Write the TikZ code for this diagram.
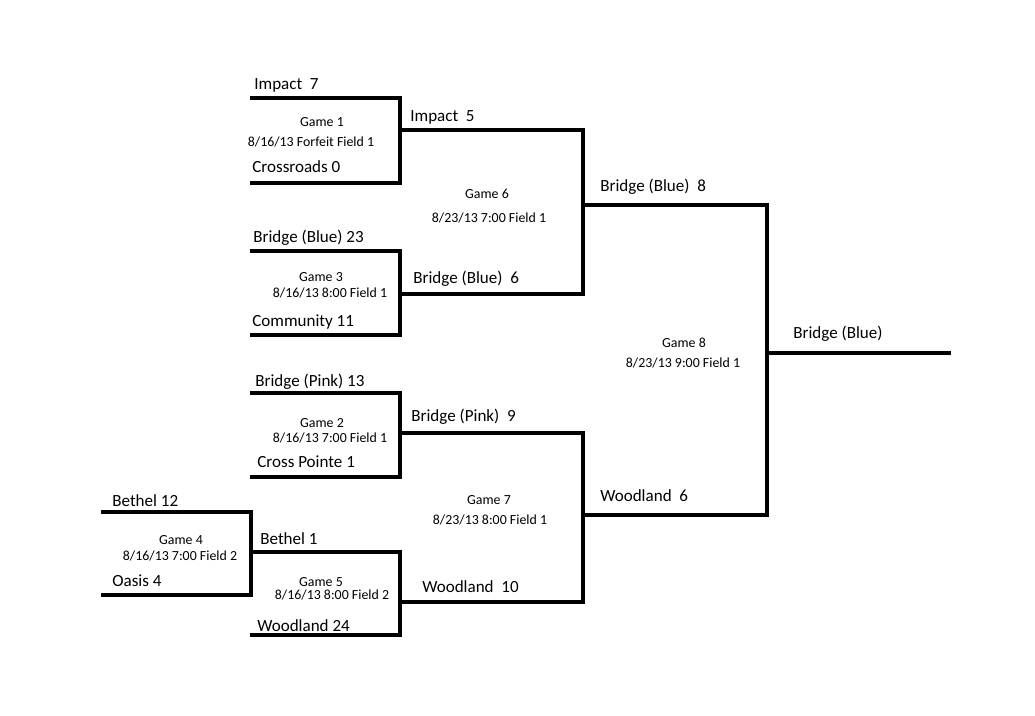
\documentclass[tikz,border=0pt]{standalone}
\usepackage{fontspec}
\setmainfont{Carlito}
\begin{document}
\begin{tikzpicture}[x=0.02cm,y=-0.02cm]
\tikzset{bline/.style={line width=2pt},
team/.style={anchor=base west,inner sep=0pt,font=\fontsize{9.7}{11}\selectfont},
game/.style={anchor=base,inner sep=0pt,font=\fontsize{7.9}{9}\selectfont}}
\useasboundingbox(0,0)rectangle(1035,716);
% bracket boxes: left x / right x / top y / bottom y
\foreach \xa/\xb/\ya/\yb in {250/400/98/183,250/400/251/335,250/400/393/477,101/251/512/595,250/400/552/635,400/583/130/294,400/583/433/602,583/767/205/515}{\draw[bline](\xa,\ya)-|(\xb,\yb)--(\xa,\yb);}
\draw[bline](767,353)--(951,353);
% game titles and dates
\foreach \n/\xg/\yg/\xd/\yd/\d in {1/322/127/311/147/{8/16/13 Forfeit Field 1},2/322/427/330/442/{8/16/13 7:00 Field 1},3/321/282/330/297/{8/16/13 8:00 Field 1},4/181/544/180/560/{8/16/13 7:00 Field 2},5/321/586/332/599/{8/16/13 8:00 Field 2},6/487/199/489/223/{8/23/13 7:00 Field 1},7/489/504/490/524/{8/23/13 8:00 Field 1},8/684/348/683/367/{8/23/13 9:00 Field 1}}{\node[game](g\n) at (\xg,\yg){Game \n};\node[game](d\n) at (\xd,\yd){\d};}
% teams and scores
\foreach \nm/\x/\y/\t in {impA/254/90/{Impact\ \ 7},cross/252/173/{Crossroads 0},impB/410/122/{Impact\ \ 5},blueA/253/243/{Bridge (Blue) 23},blueB/413/284/{Bridge (Blue)\ \ 6},comm/252/327/{Community 11},pinkA/255/386/{Bridge (Pink) 13},pinkB/411/421/{Bridge (Pink)\ \ 9},cpoint/257/467/{Cross Pointe 1},bethA/112/506/{Bethel 12},bethB/260/544/{Bethel 1},oasis/112/586/{Oasis 4},woodB/422/592/{Woodland\ \ 10},woodA/257/631/{Woodland 24},blueC/600/192/{Bridge (Blue)\ \ 8},woodC/600/501/{Woodland\ \ 6},champ/793/338/{Bridge (Blue)}}{\node[team](\nm) at (\x,\y){\t};}
\end{tikzpicture}
\end{document}
